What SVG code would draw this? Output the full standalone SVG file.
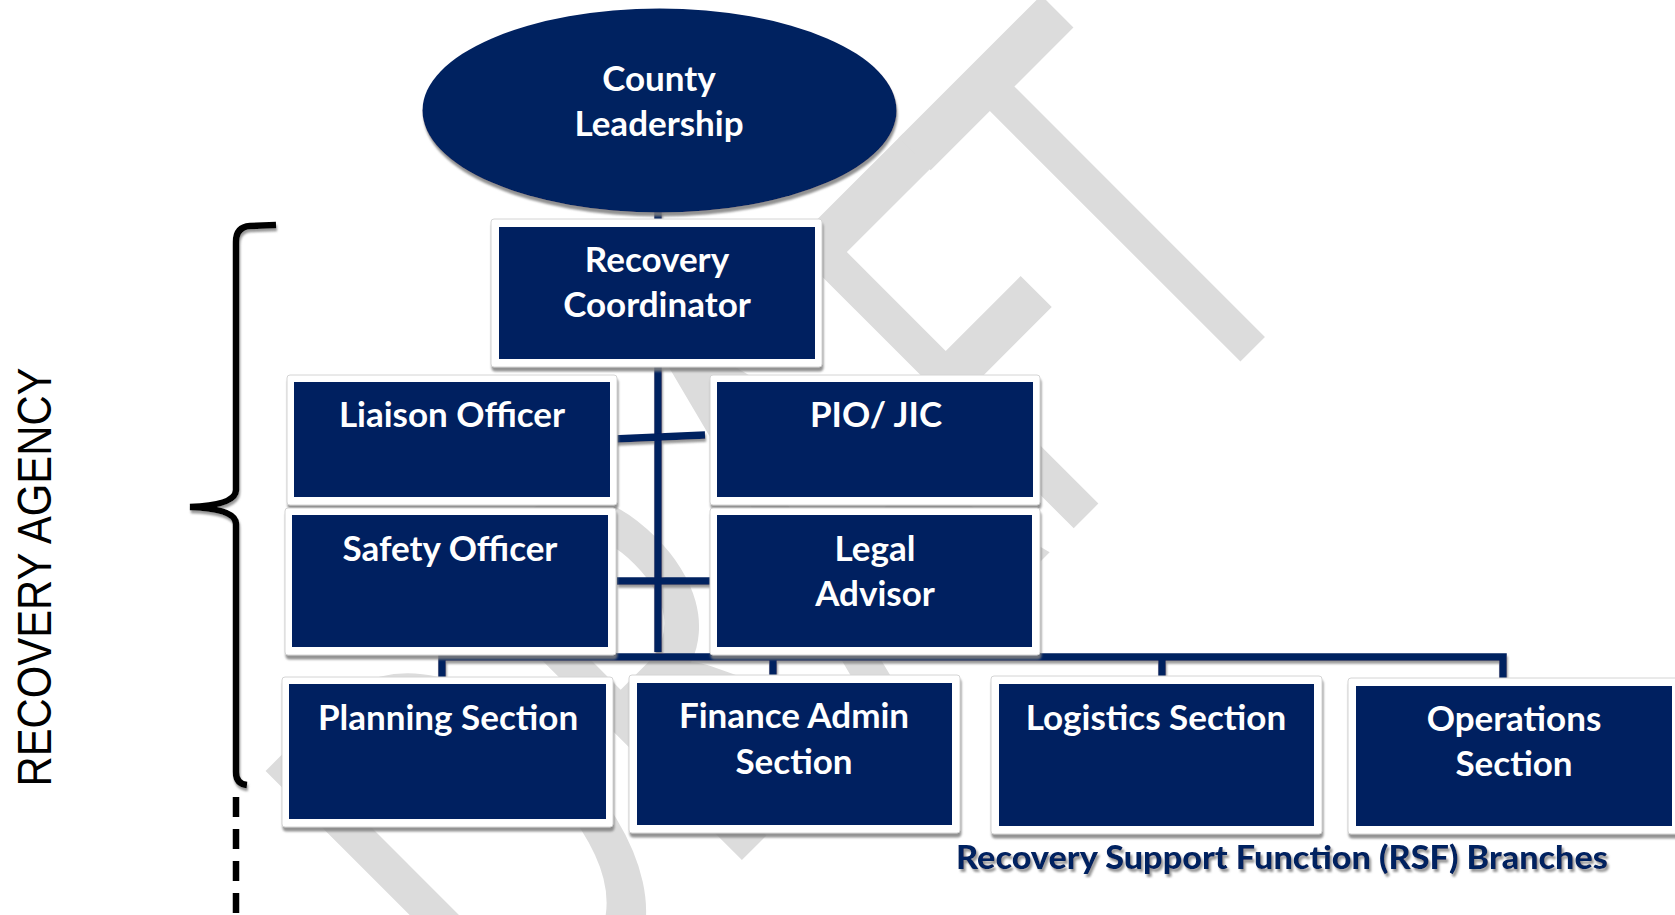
<svg xmlns="http://www.w3.org/2000/svg" width="1675" height="915" viewBox="0 0 1675 915">
<defs>
<filter id="sh" x="-10%" y="-10%" width="130%" height="140%">
<feDropShadow dx="1" dy="4" stdDeviation="1.2" flood-color="#7f7f7f" flood-opacity="0.85"/>
</filter>
<filter id="lsh" filterUnits="userSpaceOnUse" x="0" y="0" width="1675" height="915">
<feDropShadow dx="1" dy="3" stdDeviation="1" flood-color="#808080" flood-opacity="0.8"/>
</filter>
<filter id="tsh" x="-5%" y="-20%" width="110%" height="160%">
<feDropShadow dx="2" dy="3" stdDeviation="1" flood-color="#8c8c8c" flood-opacity="0.9"/>
</filter>
<style>
.frame{fill:#ffffff;stroke:#d4d4d4;stroke-width:1;filter:url(#sh)}
.box{fill:#002060}
.lbl{fill:#ffffff;font-family:Lato,"Open Sans","Liberation Sans",sans-serif;font-weight:bold;font-size:35px;text-anchor:middle}
.conn{fill:none;stroke:#002060;stroke-width:7.5}
.wm{fill:#dcdcdc;font-family:Lato,"Open Sans","Liberation Sans",sans-serif;font-size:360px}
</style>
</defs>
<rect width="1675" height="915" fill="#ffffff"/>
<g id="watermark">
<text class="wm" transform="translate(525 1077) rotate(-45) scale(1 1.55)">DRAF<tspan dx="-24">T</tspan></text>
</g>
<g id="bracket">
<path d="M276,225 L250,226 Q236,227 236,242 L236,490 Q236,505 190,507 Q236,509 236,524 L236,772 Q236,784 247,785" fill="none" stroke="#000000" stroke-width="6.5" filter="url(#lsh)"/>
<line x1="236" y1="797" x2="236" y2="915" stroke="#000000" stroke-width="6.5" stroke-dasharray="20 12"/>
</g>
<g id="recovery-agency-label">
<text transform="translate(51 577) rotate(-90)" font-family="Liberation Sans, Arial, sans-serif" font-size="48" fill="#000000" text-anchor="middle" textLength="419" lengthAdjust="spacingAndGlyphs">RECOVERY AGENCY</text>
</g>
<g id="connectors" filter="url(#lsh)">
<path class="conn" d="M658,210 V222"/>
<path class="conn" d="M658,366 V652"/>
<path class="conn" d="M614,439 L705,435"/>
<path class="conn" d="M617,581 L713,581"/>
<path class="conn" d="M442,686 V657 H1503 V688"/>
<path class="conn" d="M773,657 V685"/>
<path class="conn" d="M1162,657 V686"/>
</g>
<g id="county-leadership">
<ellipse cx="659.5" cy="110.5" rx="237" ry="102" fill="#002060" filter="url(#sh)"/>
<text class="lbl"><tspan x="659" y="91">County</tspan><tspan x="659" y="136">Leadership</tspan></text>
</g>
<g id="recovery-coordinator">
<rect class="frame" x="491" y="219" width="331" height="148" rx="3"/>
<rect class="box" x="499" y="227" width="316" height="132"/>
<text class="lbl"><tspan x="657" y="272">Recovery</tspan><tspan x="657" y="317">Coordinator</tspan></text>
</g>
<g id="liaison-officer">
<rect class="frame" x="287" y="375" width="330" height="130" rx="3"/>
<rect class="box" x="294" y="382" width="316" height="115"/>
<text class="lbl" x="452" y="427">Liaison Officer</text>
</g>
<g id="pio-jic">
<rect class="frame" x="710" y="375" width="330" height="130" rx="3"/>
<rect class="box" x="717" y="382" width="316" height="115"/>
<text class="lbl" x="876" y="427">PIO/ JIC</text>
</g>
<g id="safety-officer">
<rect class="frame" x="285" y="508" width="331" height="147" rx="3"/>
<rect class="box" x="292" y="515" width="316" height="132"/>
<text class="lbl" x="450" y="561">Safety Officer</text>
</g>
<g id="legal-advisor">
<rect class="frame" x="710" y="508" width="330" height="147" rx="3"/>
<rect class="box" x="717" y="515" width="315" height="132"/>
<text class="lbl"><tspan x="875" y="561">Legal</tspan><tspan x="875" y="606">Advisor</tspan></text>
</g>
<g id="planning-section">
<rect class="frame" x="282" y="677" width="331" height="150" rx="3"/>
<rect class="box" x="289" y="684" width="317" height="135"/>
<text class="lbl" x="448" y="730">Planning Section</text>
</g>
<g id="finance-admin-section">
<rect class="frame" x="629" y="675" width="331" height="158" rx="3"/>
<rect class="box" x="637" y="683" width="315" height="142"/>
<text class="lbl"><tspan x="794" y="728">Finance Admin</tspan><tspan x="794" y="774">Section</tspan></text>
</g>
<g id="logistics-section">
<rect class="frame" x="991" y="676" width="331" height="158" rx="3"/>
<rect class="box" x="999" y="684" width="315" height="142"/>
<text class="lbl" x="1156" y="730">Logistics Section</text>
</g>
<g id="operations-section">
<rect class="frame" x="1348" y="678" width="331" height="156" rx="3"/>
<rect class="box" x="1356" y="686" width="316" height="140"/>
<text class="lbl"><tspan x="1514" y="731">Operations</tspan><tspan x="1514" y="776">Section</tspan></text>
</g>
<g id="rsf-caption">
<text x="1282" y="869" font-family="Lato, 'Open Sans', 'Liberation Sans', sans-serif" font-weight="900" font-size="32" fill="#002060" text-anchor="middle" textLength="652" lengthAdjust="spacingAndGlyphs" filter="url(#tsh)">Recovery Support Function (RSF) Branches</text>
</g>
</svg>
